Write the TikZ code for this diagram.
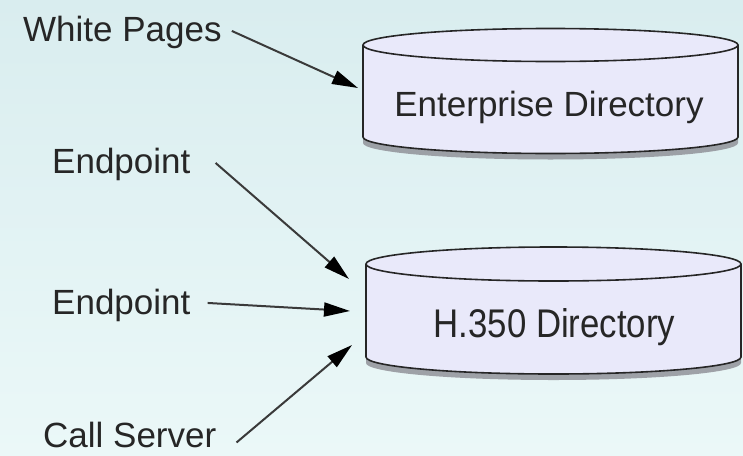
\documentclass[tikz,border=0pt]{standalone}
\usepackage{fontspec}
\setmainfont{Liberation Sans}
\newfontfamily\condensedsans[FakeStretch=0.87]{Liberation Sans}
\usetikzlibrary{arrows.meta}

\definecolor{bgtop}{HTML}{D9EDEF}
\definecolor{bgbot}{HTML}{EBF8F8}
\definecolor{drumfill}{HTML}{E9E9FA}
\definecolor{ink}{HTML}{262626}
\definecolor{wire}{HTML}{3A3A3A}
\definecolor{drumshadow}{HTML}{8C8C94}

\tikzset{
  lbl/.style={anchor=base west, inner sep=0pt, text=ink, font=\fontsize{35}{40}\selectfont},
  dirlabel/.style={anchor=base, inner sep=0pt, text=ink, font=\fontsize{35}{40}\selectfont},
  feed/.style={draw=wire, line width=2pt, -{Triangle[length=26pt,width=14pt,color=black]}},
  drumline/.style={draw=ink, line width=1.6pt},
}

% database drum: #1 centre x, #2 top ellipse y, #3 bottom ellipse y, #4 x radius, #5 y radius
\newcommand\drawdrum[5]{%
  \fill[drumshadow, opacity=0.8] (#1-#4,#2-6) -- (#1-#4,#3-6)
     arc[start angle=180, end angle=360, x radius=#4pt, y radius=#5pt]
     -- (#1+#4,#2-6) -- cycle;
  \path[drumline, fill=drumfill] (#1-#4,#2) -- (#1-#4,#3)
     arc[start angle=180, end angle=360, x radius=#4pt, y radius=#5pt]
     -- (#1+#4,#2)
     arc[start angle=0, end angle=180, x radius=#4pt, y radius=#5pt] -- cycle;
  \draw[drumline] (#1-#4,#2)
     arc[start angle=180, end angle=360, x radius=#4pt, y radius=#5pt];
}

\begin{document}
\begin{tikzpicture}[x=1pt, y=1pt]
  % backdrop
  \shade[top color=bgtop, bottom color=bgbot] (0,0) rectangle (743,-455);
  \useasboundingbox (0,0) rectangle (743,-455);

  % directories
  \drawdrum{550.5}{-45}{-137}{187.5}{16.5}
  \node[dirlabel] (ent) at (549,-116) {Enterprise Directory};

  \drawdrum{553.5}{-264}{-357}{187.5}{17}
  \node[dirlabel, font=\condensedsans\fontsize{40}{44}\selectfont] (hdir) at (554.5,-337) {H.350 Directory};

  % clients
  \node[lbl] (wp)  at (23,-41)  {White Pages};
  \node[lbl] (ep1) at (52,-173) {Endpoint};
  \node[lbl] (ep2) at (52,-314) {Endpoint};
  \node[lbl] (cs)  at (43,-447) {Call Server};

  % arrow targets on the drum sides
  \coordinate (ent-in)  at (358,-88);
  \coordinate (hdir-a)  at (349,-279);
  \coordinate (hdir-b)  at (350,-311);
  \coordinate (hdir-c)  at (352,-345);

  % connectors
  \draw[feed] ([shift={(10,1)}]wp.east)   -- (ent-in);
  \draw[feed] ([shift={(25,1)}]ep1.east)  -- (hdir-a);
  \draw[feed] ([shift={(17,2)}]ep2.east)  -- (hdir-b);
  \draw[feed] ([shift={(20,-8)}]cs.east)  -- (hdir-c);
\end{tikzpicture}
\end{document}
